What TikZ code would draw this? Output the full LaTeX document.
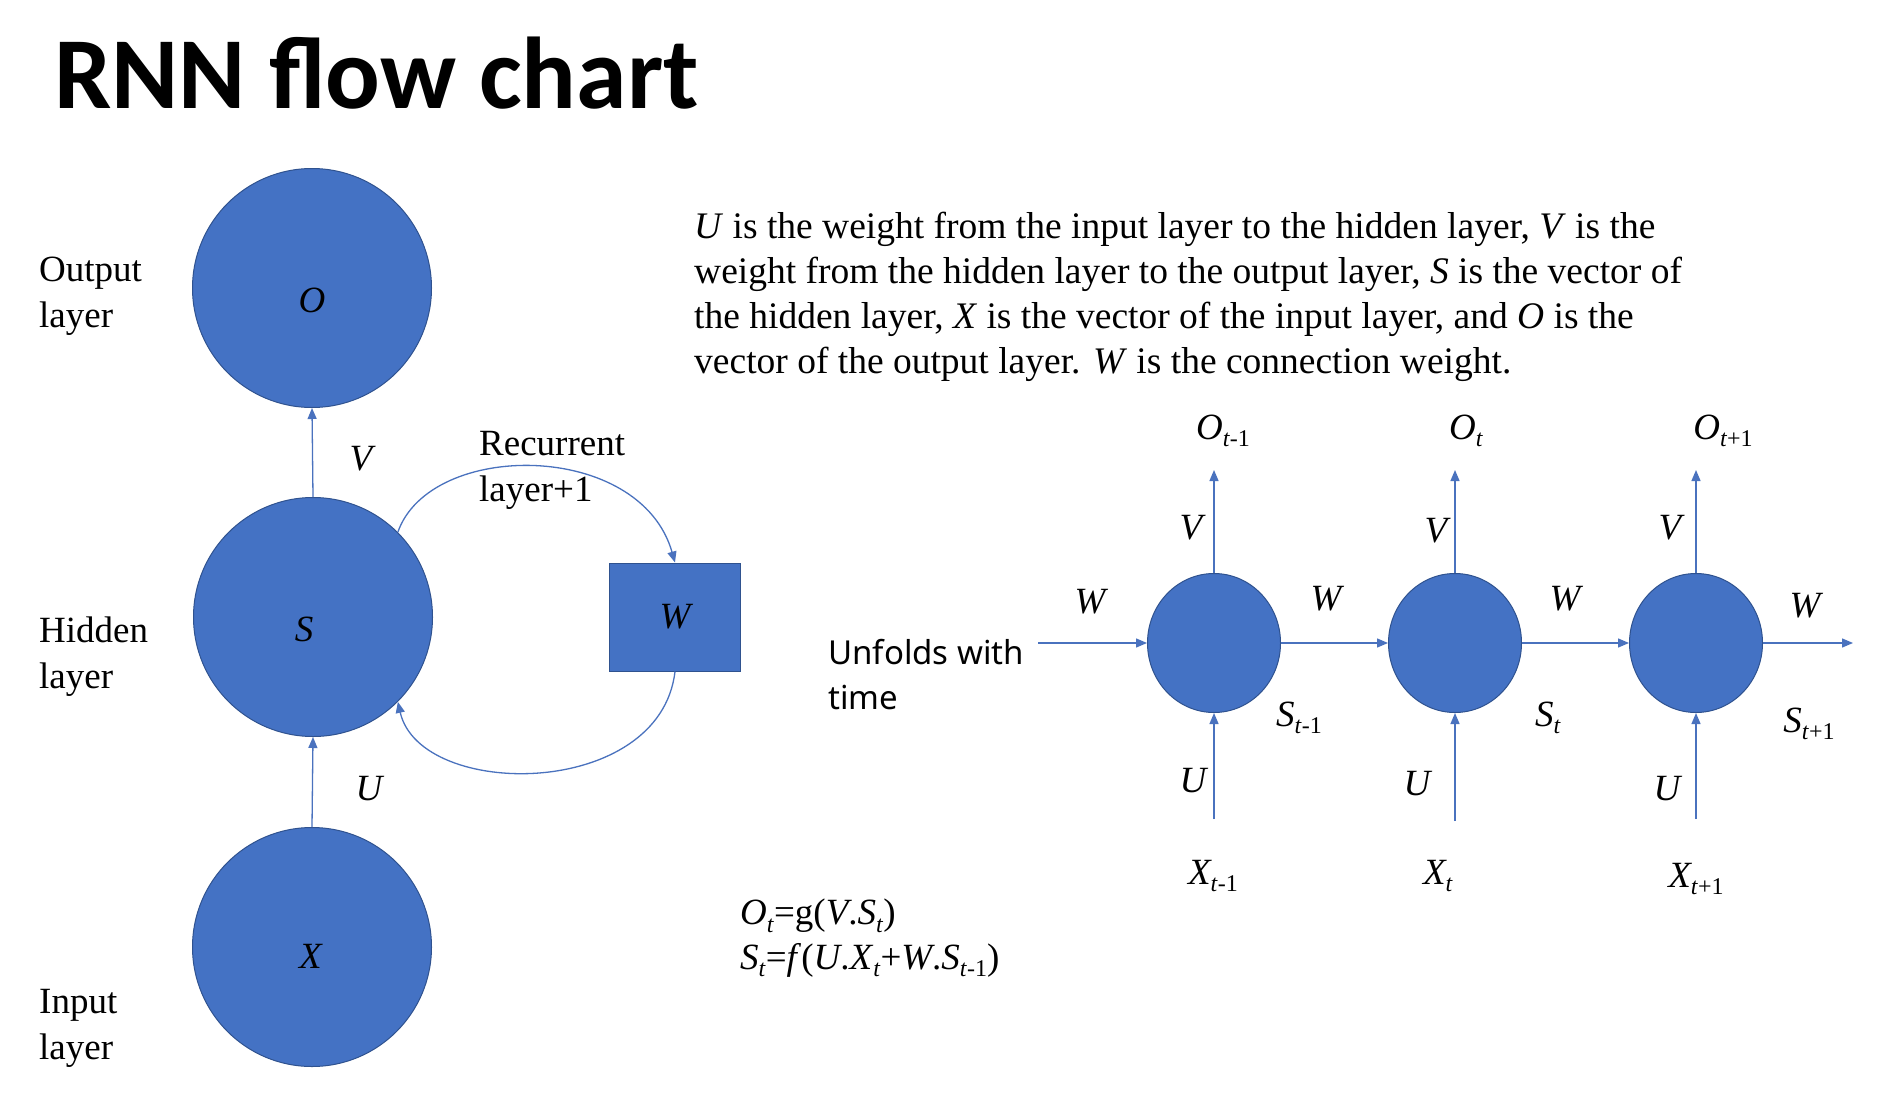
\documentclass[tikz,border=0pt]{standalone}
\usepackage{fontspec}
\setmainfont{Liberation Serif}
\newfontfamily\titlefont{Carlito}
\newfontfamily\uisans{Noto Sans}
\usetikzlibrary{arrows.meta,shapes.geometric}
\definecolor{nodeblue}{HTML}{4472C4}
\definecolor{edgeblue}{HTML}{2F528F}
\definecolor{linkblue}{HTML}{4A72BE}
\newcommand{\lsub}[1]{\raisebox{-0.2em}{\fontsize{24}{24}\selectfont\upshape #1}}
\newcommand{\ti}{\textit{t}}
\newcommand{\lowered}[2]{\raisebox{-#1}[\height][\depth]{#2}}
\begin{document}
\begin{tikzpicture}[x=1pt,y=-1pt,
  txt/.style={font=\fontsize{37}{46}\selectfont, inner sep=0pt, align=left},
  lbl/.style={font=\fontsize{37}{46}\selectfont\itshape, inner sep=0pt},
  bigcirc/.style={circle, fill=nodeblue, draw=edgeblue, line width=1pt, minimum size=239pt, inner sep=0pt, font=\fontsize{37}{46}\selectfont\itshape},
  smallcirc/.style={ellipse, fill=nodeblue, draw=edgeblue, line width=1pt, minimum width=133pt, minimum height=139pt, inner sep=0pt},
  wbox/.style={rectangle, fill=nodeblue, draw=edgeblue, line width=1pt, minimum width=131pt, minimum height=108pt, inner sep=0pt, font=\fontsize{37}{46}\selectfont\itshape},
  arr/.style={draw=linkblue, line width=1.3pt, -{Triangle[length=11pt,width=9pt]}}
]
\path[use as bounding box, fill=white] (0,0) rectangle (1889,1092);

% title
\node[anchor=base west, inner sep=0pt, font=\titlefont\bfseries\fontsize{102}{102}\selectfont] (title) at (54,108) {RNN flow chart};

% left diagram
\node[bigcirc] (O) at (312,288) {\lowered{12pt}{O}};
\node[bigcirc] (S) at (313,617) {\hspace*{-18pt}\lowered{12pt}{S}};
\node[bigcirc] (X) at (312,947) {\hspace*{-3pt}\lowered{9pt}{X}};
\node[wbox] (W) at (675,617) {W};

\draw[arr] (S.north) -- (O.south);
\draw[arr] (X.north) -- (S.south);
\draw[arr] (S.45) .. controls (430,440) and (640,440) .. (W.north);
\draw[arr] (W.south) .. controls (660,800) and (420,800) .. (S.-45);

\node[lbl] (lV) at (361,459) {V};
\node[lbl] (lU) at (369,789) {U};
\node[txt, anchor=base west] (rec) at (479,501) {Recurrent\\layer+1};

\node[txt, anchor=base west] (outl) at (39,327) {Output\\layer};
\node[txt, anchor=base west] (hidl) at (39,688) {Hidden\\layer};
\node[txt, anchor=base west] (inl) at (39,1059) {Input\\layer};

% paragraph
\node[anchor=base west, inner sep=0pt, align=left, font=\fontsize{37.5}{45}\selectfont] (para) at (694,373)
{\textit{U} is the weight from the input layer to the hidden layer, \textit{V} is the\\
weight from the hidden layer to the output layer, \textit{S} is the vector of\\
the hidden layer, \textit{X} is the vector of the input layer, and \textit{O} is the\\
vector of the output layer. \textit{W} is the connection weight.};

% unfolded
\node[anchor=base west, inner sep=0pt, align=left, font=\uisans\fontsize{33}{45}\selectfont] (unf) at (828,709) {Unfolds with\\time};

\node[smallcirc] (s1) at (1214,643) {};
\node[smallcirc] (s2) at (1455,643) {};
\node[smallcirc] (s3) at (1696,643) {};

\coordinate (win) at (1038,643);
\coordinate (wout) at (1853,643);
\coordinate (o1) at (1214,470);
\coordinate (o2) at (1455,470);
\coordinate (o3) at (1696,470);
\coordinate (x1) at (1214,819);
\coordinate (x2) at (1455,821);
\coordinate (x3) at (1696,819);

\draw[arr] (win) -- (s1.west);
\draw[arr] (s1.east) -- (s2.west);
\draw[arr] (s2.east) -- (s3.west);
\draw[arr] (s3.east) -- (wout);
\draw[arr] (s1.north) -- (o1);
\draw[arr] (s2.north) -- (o2);
\draw[arr] (s3.north) -- (o3);
\draw[arr] (x1) -- (s1.south);
\draw[arr] (x2) -- (s2.south);
\draw[arr] (x3) -- (s3.south);

\node[lbl] (O1) at (1223,431) {O\lsub{\ti-1}};
\node[lbl] (O2) at (1466,431) {O\lsub{\ti}};
\node[lbl] (O3) at (1723,431) {O\lsub{\ti+1}};

\node[lbl] (V1) at (1191,528) {V};
\node[lbl] (V2) at (1436,531) {V};
\node[lbl] (V3) at (1670,528) {V};

\node[lbl] (W0) at (1090,602) {W};
\node[lbl] (W1) at (1326,599) {W};
\node[lbl] (W2) at (1565,599) {W};
\node[lbl] (W3) at (1805,606) {W};

\node[lbl] (S1) at (1299,718) {S\lsub{\ti-1}};
\node[lbl] (S2) at (1548,718) {S\lsub{\ti}};
\node[lbl] (S3) at (1809,724) {S\lsub{\ti+1}};

\node[lbl] (U1) at (1193,781) {U};
\node[lbl] (U2) at (1417,784) {U};
\node[lbl] (U3) at (1667,789) {U};

\node[lbl] (X1) at (1213,876) {X\lsub{\ti-1}};
\node[lbl] (X2) at (1438,876) {X\lsub{\ti}};
\node[lbl] (X3) at (1696,879) {X\lsub{\ti+1}};

% formulas
\node[txt, anchor=west] (f1) at (740,916) {\textit{O}\lsub{\ti}=g(\textit{V}.\textit{S}\lsub{\ti})};
\node[txt, anchor=west] (f2) at (740,960) {\textit{S}\lsub{\ti}=\textit{f}(\textit{U}.\textit{X}\lsub{\ti}+\textit{W}.\textit{S}\lsub{\ti-1})};
\end{tikzpicture}
\end{document}
